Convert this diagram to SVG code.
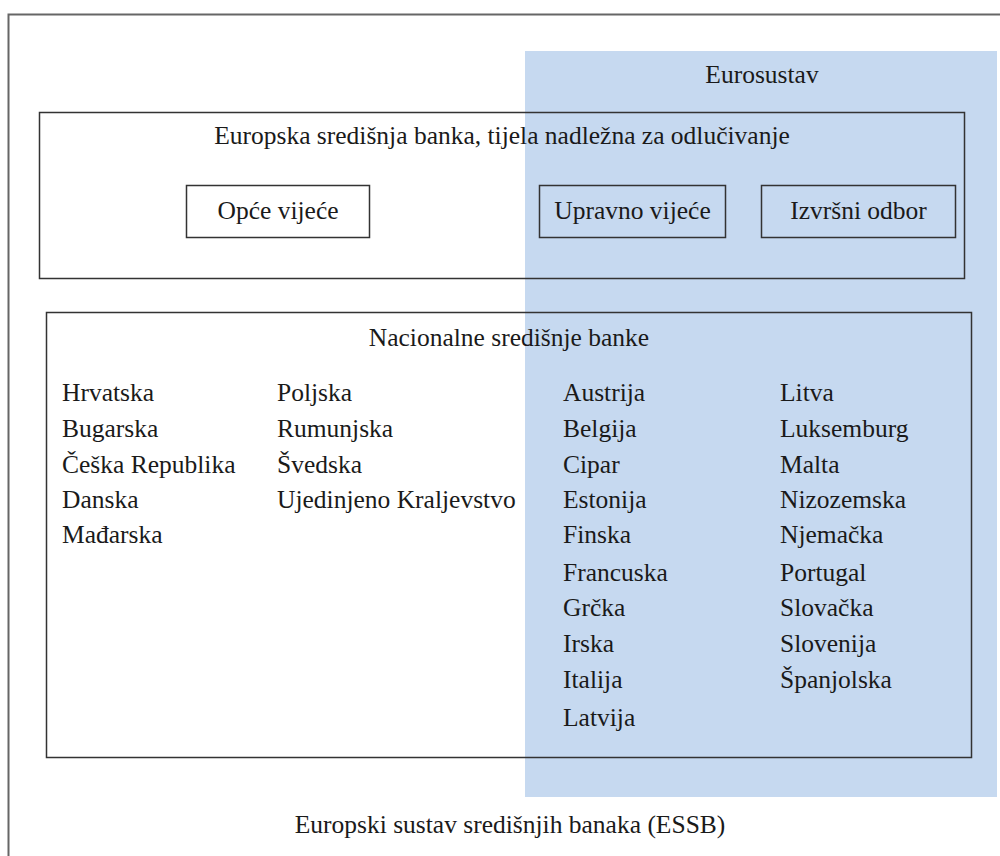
<svg xmlns="http://www.w3.org/2000/svg" width="1000" height="856" viewBox="0 0 1000 856">
<style>
.t{font-family:"Liberation Serif","Times New Roman",serif;font-size:25.5px;fill:#1a1a1a}
.m{text-anchor:middle}
.box{fill:none;stroke:#333;stroke-width:1.5}
.frame{fill:none;stroke:#666;stroke-width:2}
</style>
<rect width="1000" height="856" fill="#fff"/>
<g id="essb">
<path class="frame" d="M8.5 856 V14.5 H1000"/>
<text class="t m" x="510" y="833">Europski sustav središnjih banaka (ESSB)</text>
</g>
<g id="eurosustav">
<rect x="525" y="51" width="472" height="746" fill="#C6D9F0"/>
<text class="t m" x="762" y="83">Eurosustav</text>
</g>
<g id="ecb">
<rect class="box" x="39.5" y="112.5" width="925" height="166"/>
<text class="t m" x="502" y="144">Europska središnja banka, tijela nadležna za odlučivanje</text>
</g>
<g id="opce-vijece">
<rect class="box" x="186.5" y="185.5" width="183" height="52"/>
<text class="t m" x="278" y="219">Opće vijeće</text>
</g>
<g id="upravno-vijece">
<rect class="box" x="539.5" y="185.5" width="186" height="52"/>
<text class="t m" x="632.5" y="219">Upravno vijeće</text>
</g>
<g id="izvrsni-odbor">
<rect class="box" x="761.5" y="185.5" width="194" height="52"/>
<text class="t m" x="858.5" y="219">Izvršni odbor</text>
</g>
<g id="ncb">
<rect class="box" x="46.5" y="312.5" width="925" height="445"/>
<text class="t m" x="509" y="346">Nacionalne središnje banke</text>
<text class="t" x="62" y="401">Hrvatska</text>
<text class="t" x="62" y="437">Bugarska</text>
<text class="t" x="62" y="473">Češka Republika</text>
<text class="t" x="62" y="508">Danska</text>
<text class="t" x="62" y="543">Mađarska</text>
<text class="t" x="277" y="401">Poljska</text>
<text class="t" x="277" y="437">Rumunjska</text>
<text class="t" x="277" y="473">Švedska</text>
<text class="t" x="277" y="508">Ujedinjeno Kraljevstvo</text>
<text class="t" x="563" y="401">Austrija</text>
<text class="t" x="563" y="437">Belgija</text>
<text class="t" x="563" y="473">Cipar</text>
<text class="t" x="563" y="508">Estonija</text>
<text class="t" x="563" y="543">Finska</text>
<text class="t" x="563" y="581">Francuska</text>
<text class="t" x="563" y="616">Grčka</text>
<text class="t" x="563" y="652">Irska</text>
<text class="t" x="563" y="688">Italija</text>
<text class="t" x="563" y="726">Latvija</text>
<text class="t" x="780" y="401">Litva</text>
<text class="t" x="780" y="437">Luksemburg</text>
<text class="t" x="780" y="473">Malta</text>
<text class="t" x="780" y="508">Nizozemska</text>
<text class="t" x="780" y="543">Njemačka</text>
<text class="t" x="780" y="581">Portugal</text>
<text class="t" x="780" y="616">Slovačka</text>
<text class="t" x="780" y="652">Slovenija</text>
<text class="t" x="780" y="688">Španjolska</text>
</g>
<g id="connectors"/>
</svg>
